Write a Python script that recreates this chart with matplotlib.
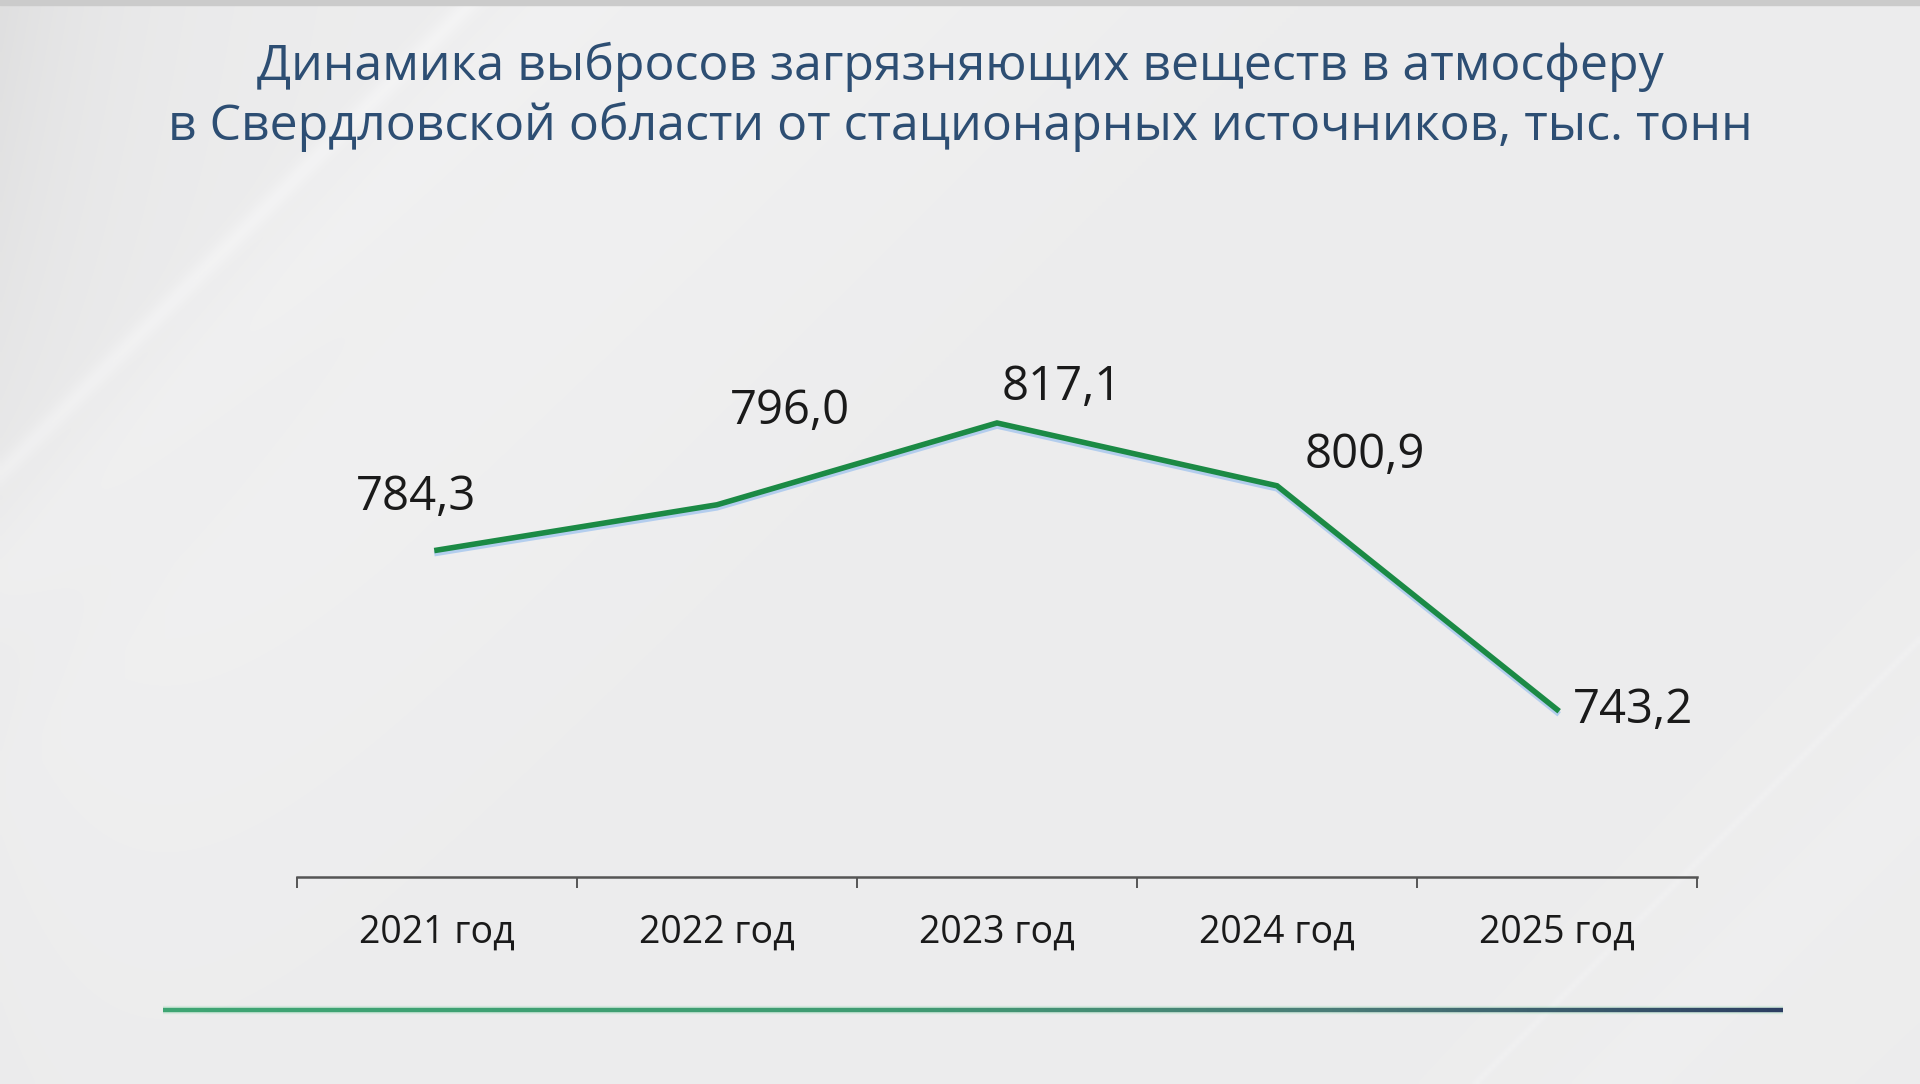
import numpy as np
import matplotlib
matplotlib.use("Agg")
import matplotlib.pyplot as plt
from matplotlib.collections import LineCollection
from matplotlib.colors import LinearSegmentedColormap
import matplotlib.patheffects as pe

# ---- data ----
categories = ["2021 год", "2022 год", "2023 год", "2024 год", "2025 год"]
values = [784.3, 796.0, 817.1, 800.9, 743.2]
value_labels = ["784,3", "796,0", "817,1", "800,9", "743,2"]
title_lines = ["Динамика выбросов загрязняющих веществ в атмосферу",
               "в Свердловской области от стационарных источников, тыс. тонн"]

# label offsets in pixels (dx, dy) relative to point
label_offsets = [(-21, 53), (73, 94), (65, 36), (88, 31), (76, -1)]

plt.rcParams['font.family'] = ['Open Sans', 'DejaVu Sans']

W, H = 1920, 1084
fig = plt.figure(figsize=(W / 100, H / 100), dpi=100)

# ---- background ----
h, w = 271, 480
yy, xx = np.mgrid[0:h, 0:w].astype(float)
X = xx * 4.0
Y = yy * 4.0
base = np.full((h, w), 237.0)
# left edge darkening
base -= 14 * np.exp(-X / 120.0) * np.clip(1 - Y / 700.0, 0.2, 1)
d = X + Y
# bright diagonal streak
base += 6 * np.exp(-((d - 470) / 14.0) ** 2)
base += 3 * np.exp(-((d - 560) / 80.0) ** 2)
base += 3 * np.clip((d - 470) / 300.0, 0, 1) * np.clip((1300 - d) / 500.0, 0, 1)
# right side faint lines
base += 4 * np.exp(-((d - 2555) / 4.0) ** 2)
base += 2 * np.exp(-((d - 2700) / 60.0) ** 2)
base = np.clip(base, 0, 255) / 255.0
img = np.dstack([base, base, base * 1.003])
img = np.clip(img, 0, 1)

bg = fig.add_axes([0, 0, 1, 1])
bg.imshow(img, extent=[0, W, H, 0], aspect='auto', interpolation='bilinear', zorder=0)
bg.set_xlim(0, W)
bg.set_ylim(H, 0)
bg.axis('off')
bg.axhspan(0, 5, color='#cbcbcb', zorder=1)

# bottom gradient line
xs = np.linspace(163, 1783, 400)
segs = [[(xs[i], 1010), (xs[i + 1], 1010)] for i in range(len(xs) - 1)]
cmap = LinearSegmentedColormap.from_list(
    'g', [(0, '#3ea573'), (0.45, '#3f9b72'), (0.72, '#4a7d77'), (1.0, '#2c3e62')])
tvals = np.linspace(0, 1, len(segs))
glow = LineCollection(segs, colors='#8fe0b0', linewidths=6, alpha=0.25, zorder=2)
bg.add_collection(glow)
lc = LineCollection(segs, colors=cmap(tvals), linewidths=3.2, zorder=3, capstyle='butt')
bg.add_collection(lc)

# ---- title ----
fig.text(0.5, 1 - 67 / H, title_lines[0], ha='center', va='center',
         fontsize=36, color='#2d4e73')
fig.text(0.5, 1 - 127 / H, title_lines[1], ha='center', va='center',
         fontsize=36, color='#2d4e73')

# ---- main chart ----
ax = fig.add_axes([297 / W, 1 - 877 / H, (1697 - 297) / W, (877 - 245) / H])
ax.patch.set_alpha(0)
x = np.arange(len(categories))
ax.plot(x, values, color='#1b8a45', lw=4.0, solid_joinstyle='miter', zorder=5,
        path_effects=[pe.SimpleLineShadow(offset=(0, -2.2), shadow_color='#a5c6ee', alpha=0.8),
                      pe.Normal()])
ax.set_xlim(-0.5, len(categories) - 0.5)
ax.set_ylim(700, 863)

for i, (v, lab) in enumerate(zip(values, value_labels)):
    ax.annotate(lab, (x[i], v), xytext=label_offsets[i], textcoords='offset pixels',
                ha='center', va='center', fontsize=34, color='#1a1a1a')

for s in ['top', 'left', 'right']:
    ax.spines[s].set_visible(False)
ax.spines['bottom'].set_color('#555555')
ax.spines['bottom'].set_linewidth(1.8)
ax.set_yticks([])
ax.set_xticks(x)
ax.set_xticklabels(categories, fontsize=27, color='#1a1a1a')
ax.tick_params(axis='x', which='major', length=0, pad=26)
ax.set_xticks(np.arange(-0.5, len(categories), 1.0), minor=True)
ax.tick_params(axis='x', which='minor', length=8, width=1.4, color='#555555', direction='out')

fig.savefig('out.png', dpi=100)
